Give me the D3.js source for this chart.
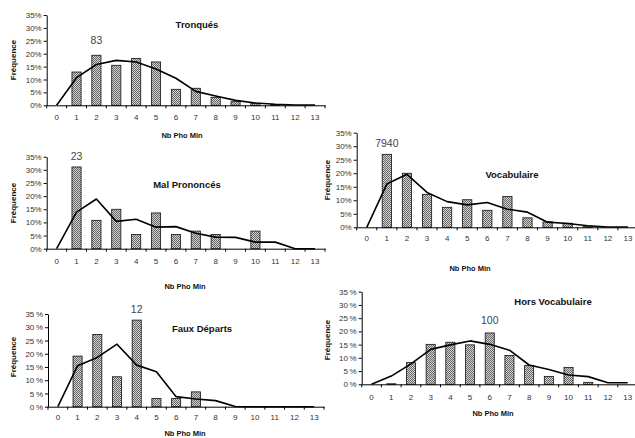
<!DOCTYPE html>
<html><head><meta charset="utf-8">
<script src="https://cdn.jsdelivr.net/npm/d3@7"></script>
<style>body{margin:0;background:#fff}svg{display:block}text{font-family:"Liberation Sans",Arial,sans-serif}</style>
</head><body>
<svg id="c" width="635" height="438"></svg>
<script>
const categories = [0,1,2,3,4,5,6,7,8,9,10,11,12,13];
const yTicks = [0,5,10,15,20,25,30,35];

const tronquesBars = [0, 12.9, 19.4, 15.5, 18.1, 16.8, 6.2, 6.6, 3.1, 1.4, 0.8, 0.3, 0, 0];
const tronquesLine = [0, 10.7, 15.8, 17.4, 16.8, 14.1, 10.5, 5.4, 3.6, 1.9, 0.9, 0.4, 0.1, 0.1];

const malBars = [0, 31.1, 10.8, 15.0, 5.4, 13.6, 5.4, 6.7, 5.4, 0, 6.7, 0, 0, 0];
const malLine = [0, 13.9, 18.9, 10.4, 11.2, 8.2, 8.4, 5.9, 4.4, 4.3, 2.5, 2.5, 0, 0];

const fauxBars = [0, 19.1, 27.3, 11.3, 32.7, 3.1, 3.1, 5.6, 0, 0, 0, 0, 0, 0];
const fauxLine = [0, 15.5, 18.6, 23.6, 15.7, 13.2, 3.8, 2.9, 2.3, 0.1, 0, 0, 0, 0];

const vocabBars = [0, 27.0, 20.0, 12.2, 7.4, 10.2, 6.3, 11.4, 3.5, 2.0, 1.5, 0.5, 0, 0];
const vocabLine = [0, 16.0, 19.6, 12.9, 9.5, 8.3, 9.2, 6.7, 5.6, 1.9, 1.4, 0.6, 0.1, 0.1];

const horsBars = [0, 0.2, 8.2, 15.1, 15.9, 14.9, 19.4, 10.9, 7.1, 3.0, 6.4, 0.75, 0, 0];
const horsLine = [0, 3.1, 7.7, 13.2, 14.9, 16.4, 15.1, 12.9, 7.3, 5.6, 3.5, 2.9, 0.6, 0.6];

const titles = ["Tronqués", "Mal Prononcés", "Faux Départs", "Vocabulaire", "Hors Vocabulaire"];
const counts = ["83", "23", "12", "7940", "100"];
const countAt = [2, 1, 4, 1, 6];
const xTitle = "Nb Pho Min";
const yTitle = "Fréquence";

const svg = d3.select("#c");
const defs = svg.append("defs");
const pat = defs.append("pattern").attr("id","stip").attr("patternUnits","userSpaceOnUse").attr("width",2).attr("height",2);
pat.append("rect").attr("width",2).attr("height",2).attr("fill","#d2d2d2");
pat.append("rect").attr("x",0).attr("y",0).attr("width",1).attr("height",1).attr("fill","#666");
pat.append("rect").attr("x",1).attr("y",1).attr("width",1).attr("height",1).attr("fill","#666");

const panels = [
  {bars: tronquesBars, line: tronquesLine, ax: 46.7, x1: 325, y0: 105.3, y35: 15, tx: 197, ty: 25, cy: 40, xlY: 118, xtx: 182, xtY: 135, ytx: 13, yty: 60, sp: false},
  {bars: malBars, line: malLine, ax: 46.7, x1: 325, y0: 248.7, y35: 156.7, tx: 187, ty: 185, cy: 156, xlY: 262, xtx: 185, xtY: 286.5, ytx: 13, yty: 203, sp: false},
  {bars: fauxBars, line: fauxLine, ax: 48, x1: 324, y0: 406.7, y35: 314, tx: 202, ty: 329, cy: 309, xlY: 418, xtx: 185, xtY: 433.5, ytx: 13, yty: 357, sp: true},
  {bars: vocabBars, line: vocabLine, ax: 356.7, x1: 638, y0: 227.3, y35: 132.7, tx: 512, ty: 175, cy: 143, xlY: 239, xtx: 470, xtY: 268, ytx: 327, yty: 180, sp: false},
  {bars: horsBars, line: horsLine, ax: 361.7, x1: 637.5, y0: 384.3, y35: 291.7, tx: 553, ty: 302, cy: 320, xlY: 398, xtx: 493, xtY: 413, ytx: 327, yty: 340, sp: true}
];

panels.forEach((p, i) => {
  const g = svg.append("g");
  const x = d3.scaleBand().domain(categories).range([p.ax, p.x1]).paddingInner(0).paddingOuter(0);
  const y = d3.scaleLinear().domain([0, 35]).range([p.y0, p.y35]);
  const bw = x.bandwidth() * 0.46;

  g.selectAll("rect.bar").data(categories.filter(c => p.bars[c] > 0)).join("rect")
    .attr("class","bar")
    .attr("x", c => x(c) + x.bandwidth()/2 - bw/2)
    .attr("y", c => y(p.bars[c]))
    .attr("width", bw)
    .attr("height", c => Math.max(0.6, y(0) - y(p.bars[c])))
    .attr("fill","url(#stip)").attr("stroke","#111").attr("stroke-width",0.8);

  const ya = g.append("g").attr("transform", `translate(${p.ax},0)`)
    .call(d3.axisLeft(y).tickValues(yTicks).tickSize(3).tickSizeOuter(0)
      .tickFormat(d => d + (p.sp ? "\u2009%" : "%")));
  ya.select(".domain").attr("stroke","#000");
  ya.selectAll(".tick line").attr("stroke","#000");
  ya.selectAll(".tick text").attr("font-size", 8).attr("fill","#333").attr("x",-5).attr("font-family",'"Liberation Sans",Arial,sans-serif');

  const xa = g.append("g").attr("transform", `translate(0,${p.y0})`)
    .call(d3.axisBottom(x).tickSize(0).tickSizeOuter(0).tickPadding(0));
  xa.select(".domain").attr("stroke","#000");
  xa.selectAll(".tick text").attr("font-size", 8).attr("fill","#333")
    .attr("y", p.xlY - p.y0 - 3.2).attr("dy","0.71em").attr("font-family",'"Liberation Sans",Arial,sans-serif');
  const bounds = categories.map(c => x(c)).concat([x(categories[categories.length-1]) + x.bandwidth()]);
  g.selectAll("line.bt").data(bounds).join("line").attr("class","bt")
    .attr("x1", d => d).attr("x2", d => d).attr("y1", p.y0).attr("y2", p.y0 + 3)
    .attr("stroke","#000").attr("stroke-width",1);

  const ln = d3.line().x(c => x(c) + x.bandwidth()/2).y(c => y(p.line[c]));
  g.append("path").datum(categories).attr("d", ln)
    .attr("fill","none").attr("stroke","#000").attr("stroke-width",1.6).attr("stroke-linejoin","round");

  g.append("text").attr("x", p.tx).attr("y", p.ty).attr("dy","0.35em").attr("text-anchor","middle")
    .attr("font-size", 9.5).attr("font-weight","bold").attr("fill","#111").text(titles[i]);
  g.append("text").attr("x", x(countAt[i]) + x.bandwidth()/2).attr("y", p.cy).attr("dy","0.35em").attr("text-anchor","middle")
    .attr("font-size", 10.5).attr("fill","#444").text(counts[i]);
  g.append("text").attr("x", p.xtx).attr("y", p.xtY).attr("dy","0.35em").attr("text-anchor","middle")
    .attr("font-size", 7.5).attr("font-weight","bold").attr("fill","#111").text(xTitle);
  g.append("text").attr("transform", `translate(${p.ytx},${p.yty}) rotate(-90)`).attr("dy","0.35em").attr("text-anchor","middle")
    .attr("font-size", 8).attr("font-weight","bold").attr("fill","#111").text(yTitle);
});
</script>
</body></html>
